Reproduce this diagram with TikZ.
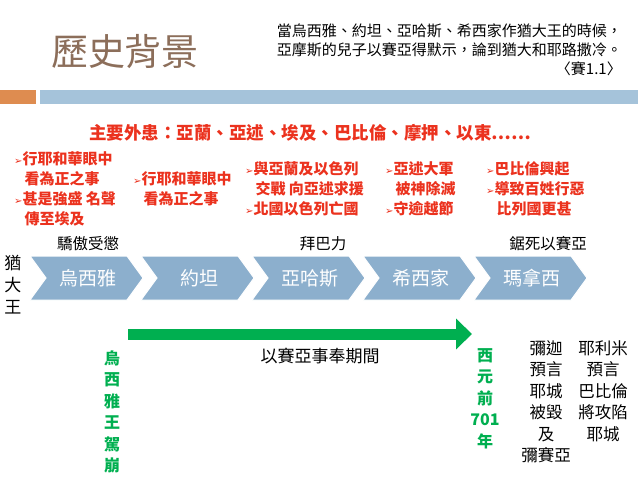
\documentclass[tikz,border=0pt]{standalone}
\usepackage{fontspec}
\setmainfont{Noto Sans CJK TC}
\newfontfamily\symfont{DejaVu Sans}
\usetikzlibrary{arrows.meta}
\definecolor{titlebrown}{RGB}{140,110,90}
\definecolor{barorange}{RGB}{222,140,80}
\definecolor{barblue}{RGB}{165,195,218}
\definecolor{chevblue}{RGB}{140,175,205}
\definecolor{outred}{RGB}{235,50,30}
\definecolor{periodgreen}{RGB}{0,175,80}
\newcommand{\bul}{{\symfont\fontsize{10}{10}\selectfont ➢}}
\tikzset{
    chev/.style={fill=chevblue,draw=white,line width=1pt},
    chevlabel/.style={text=white,font=\fontsize{19}{19}\selectfont},
    toplabel/.style={font=\fontsize{15.5}{15.5}\selectfont},
    redlist/.style={text=outred,font=\bfseries\fontsize{15}{20}\selectfont,align=left,anchor=north west,inner sep=0pt},
    vlist/.style={font=\fontsize{16.5}{21.5}\selectfont,align=center,anchor=north},
}
\newcommand{\chevron}[3]{%
  \fill[chev] (#1,256) -- ++(97,0) -- ++(16,22) -- ++(-16,22) -- ++(-97,0) -- ++(16,-22) -- cycle;
  \node[chevlabel] (#2) at (#1+58,278) {#3};}
\begin{document}
\begin{tikzpicture}[x=1pt,y=-1pt]
\useasboundingbox (0,0) rectangle (638,479);
\node[text=titlebrown,font=\fontsize{37}{37}\selectfont] (title) at (125,52) {歷史背景};
\node[font=\fontsize{15}{19}\selectfont,align=right,anchor=north east,inner sep=0pt] (verse) at (622,24)
  {當烏西雅、約坦、亞哈斯、希西家作猶大王的時候，\\亞摩斯的兒子以賽亞得默示，論到猶大和耶路撒冷。\\〈賽1.1〉};
\fill[barorange] (0,90) rectangle (36,104);
\fill[barblue] (40,90) rectangle (638,104);
\node[text=outred,font=\bfseries\fontsize{17.5}{17.5}\selectfont] (foes) at (310,133) {主要外患：亞蘭、亞述、埃及、巴比倫、摩押、以東……};
\node[redlist] (r1) at (14,151) {\bul 行耶和華眼中\\\ \ \ 看為正之事\\\bul 甚是強盛\ 名聲\\\ \ \ 傳至埃及};
\node[redlist] (r2) at (133,171) {\bul 行耶和華眼中\\\ \ \ 看為正之事};
\node[redlist] (r3) at (245,161) {\bul 與亞蘭及以色列\\\ \ \ 交戰\ 向亞述求援\\\bul 北國以色列亡國};
\node[redlist] (r4) at (385,161) {\bul 亞述大軍\\\ \ \ 被神除滅\\\bul 守逾越節};
\node[redlist] (r5) at (486,161) {\bul 巴比倫興起\\\bul 導致百姓行惡\\\ \ \ 比列國更甚};
\node[toplabel] (sin1) at (88,244) {驕傲受懲};
\node[toplabel] (sin2) at (323,244) {拜巴力};
\node[toplabel] (sin3) at (548,244) {鋸死以賽亞};
\node[font=\fontsize{17}{22}\selectfont,align=center] (judah) at (13,285) {猶\\大\\王};
\chevron{30}{uzziah}{烏西雅}
\chevron{141}{jotham}{約坦}
\chevron{252}{ahaz}{亞哈斯}
\chevron{363}{hezekiah}{希西家}
\chevron{474}{manasseh}{瑪拿西}
\coordinate (pstart) at (128,334);
\coordinate (pend) at (472,334);
\draw[periodgreen,line width=11pt,-{Triangle[length=16pt,width=30pt]}] (pstart) -- (pend);
\node[font=\fontsize{17}{17}\selectfont] (period) at (320,356) {以賽亞事奉期間};
\node[vlist,text=periodgreen,font=\bfseries\fontsize{16}{21.5}\selectfont] (death) at (112,347) {烏\\西\\雅\\王\\駕\\崩};
\node[vlist,text=periodgreen,font=\bfseries\fontsize{16}{21.5}\selectfont] (year) at (485,345) {西\\元\\前\\701\\年};
\node[vlist] (micah) at (546,337) {彌迦\\預言\\耶城\\被毀\\及\\彌賽亞};
\node[vlist] (jer) at (603,337) {耶利米\\預言\\巴比倫\\將攻陷\\耶城};
\end{tikzpicture}
\end{document}
